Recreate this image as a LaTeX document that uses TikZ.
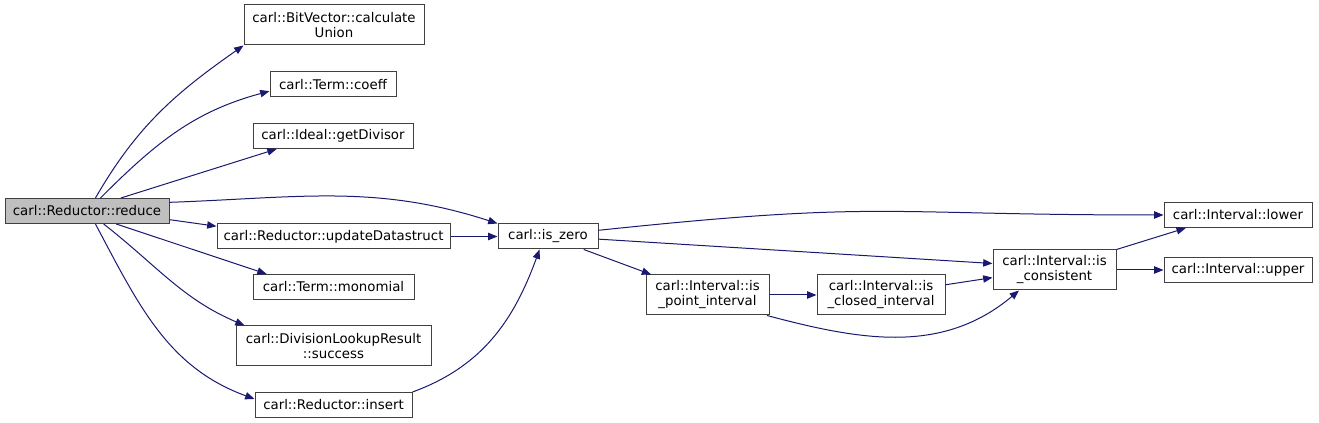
\documentclass[tikz,border=0pt]{standalone}
\usepackage{fontspec}
\setmainfont{DejaVu Sans}
\usepackage{xcolor}
\usetikzlibrary{arrows.meta}
\definecolor{navy}{HTML}{191970}
\definecolor{hl}{HTML}{BFBFBF}

\begin{document}
\begin{tikzpicture}[x=0.75pt,y=-0.75pt,
  fn/.style={draw=black!75,line width=0.75pt,fill=white,inner sep=1pt,minimum height=18.75pt,font=\fontsize{10}{11.25}\selectfont,align=center},
  fn2/.style={fn,minimum height=30pt},
  ar/.style={draw=navy,line width=0.75pt,-{Triangle[length=7pt,width=5.5pt,fill=navy]}}]
\useasboundingbox (0,0) rectangle (1319,423);
\node[fn,fill=hl,minimum width=123pt]  (reduce)   at (87,211)     {carl::Reductor::reduce};
\node[fn2,minimum width=135pt]    (union)    at (334,25)     {carl::BitVector::calculate\\Union};
\node[fn,minimum width=94.5pt]    (coeff)    at (333,84.5)   {carl::Term::coeff};
\node[fn,minimum width=120pt]     (divisor)  at (333,136)    {carl::Ideal::getDivisor};
\node[fn,minimum width=174.75pt]  (update)   at (333.5,236.5){carl::Reductor::updateDatastruct};
\node[fn,minimum width=75pt]      (iszero)   at (548,236.5)  {carl::is\_zero};
\node[fn,minimum width=120.75pt]  (monomial) at (333.5,287)  {carl::Term::monomial};
\node[fn2,minimum width=146.25pt] (success)  at (333.5,346)  {carl::DivisionLookupResult\\::success};
\node[fn,minimum width=117.75pt]  (insert)   at (333.5,404.5){carl::Reductor::insert};
\node[fn2,minimum width=92.25pt]  (point)    at (707.5,295)  {carl::Interval::is\\\_point\_interval};
\node[fn2,minimum width=96pt]     (closed)   at (881,295)    {carl::Interval::is\\\_closed\_interval};
\node[fn2,minimum width=92.25pt]  (consist)  at (1054.5,270) {carl::Interval::is\\\_consistent};
\node[fn,minimum width=111pt]     (lower)    at (1238,215)   {carl::Interval::lower};
\node[fn,minimum width=111pt]     (upper)    at (1238,270)   {carl::Interval::upper};
% calls from reduce
\draw[ar] (reduce.57) to[out=60,in=215] (union.south west);
\draw[ar] (reduce.44) to[out=45,in=195] (coeff.186);
\draw[ar] (reduce.6) to[out=2,in=162] (iszero.north west);
\draw[ar] (reduce.-38) to[out=-38,in=157] (success.167);
\draw[ar] (reduce.-57) to[out=-62,in=160] (insert.176);
\foreach \a/\b in {reduce.21/divisor.193, reduce.-6/update.175, reduce.-24/monomial.169,
  update/iszero, iszero.-3/consist.174, iszero.-20/point.160, point/closed,
  closed.9/consist.187, consist.north east/lower.194, consist/upper}
  \draw[ar] (\a) -- (\b);
\draw[ar] (insert.9) to[out=20,in=-110] (iszero.-123);
\draw[ar] (iszero.7) to[out=6,in=180,looseness=1.3] (lower);
\draw[ar] (point.-19) to[out=-15,in=-140] (consist.-150);
\end{tikzpicture}
\end{document}
